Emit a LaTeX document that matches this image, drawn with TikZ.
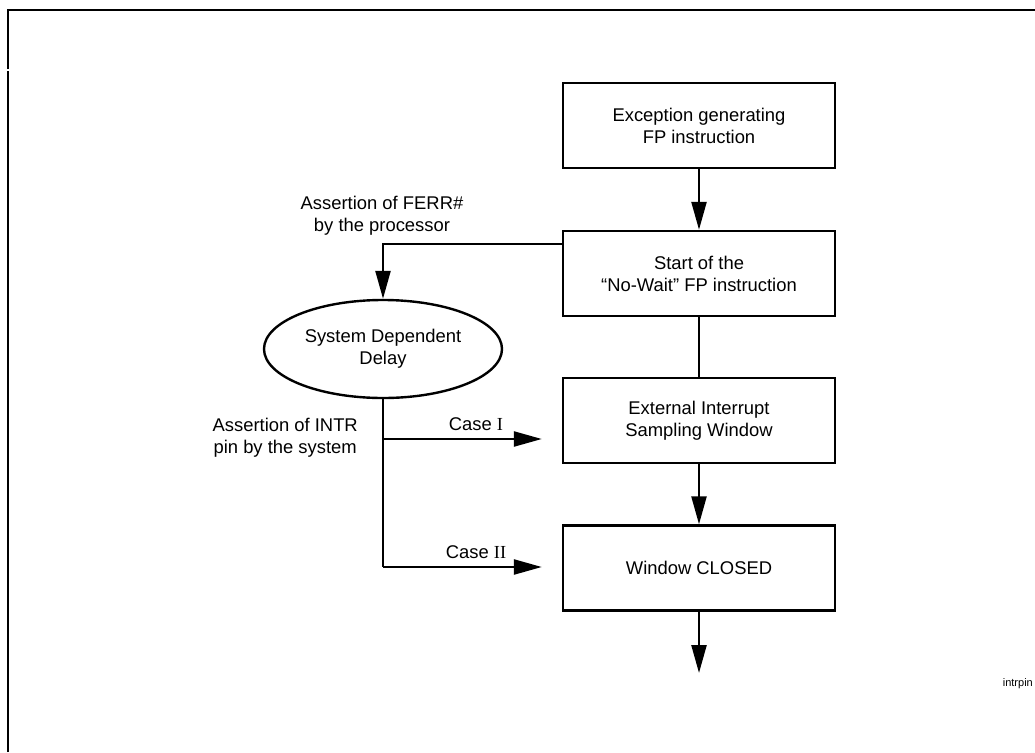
\documentclass[tikz,border=0pt]{standalone}
\usepackage{fontspec}
\setmainfont{Liberation Sans}
\newfontfamily\romfont{Liberation Serif}
\usetikzlibrary{arrows.meta,shapes.geometric}

\tikzset{
  stepbox/.style={draw,minimum width=272pt,minimum height=85pt,align=center,inner sep=0pt},
  lbl/.style={align=center,inner sep=0pt},
}

\begin{document}
\begin{tikzpicture}[x=1pt,y=-1pt,line width=2.4pt,>={Triangle[length=28pt,width=15pt]},
    every node/.style={font=\fontsize{18.4}{22}\selectfont}]
  \useasboundingbox (0,0) rectangle (1035,752);
  \draw[line width=2.2pt] (8,752) -- (8,71) (8,69) -- (8,10) -- (1035,10);
  \node[stepbox] (exc) at (699,125.5) {Exception generating\\FP instruction};
  \node[stepbox] (start) at (699,273.5) {Start of the\\“No-Wait” FP instruction};
  \node[stepbox] (ext) at (699,420.5) {External Interrupt\\Sampling Window};
  \node[stepbox] (closed) at (699,568) {Window CLOSED};
  \node[draw,ellipse,minimum width=238pt,minimum height=98pt,inner sep=0pt,align=center] (delay) at (383,349) {System Dependent\\Delay};
  \node[lbl] (ferr) at (382,216) {Assertion of FERR\#\\by the processor};
  \node[lbl,anchor=east] (intr) at (359,438) {Assertion of INTR\\pin by the system};
  \node[lbl,anchor=base east,font=\fontsize{11}{13}\selectfont] (fig) at (1034,686) {intrpin};
  \coordinate (c1) at (383,439);
  \coordinate (c2) at (383,567);
  \coordinate (out) at (699,673);
  \draw[->] (exc) -- (start);
  \draw[->] ([yshift=29.5pt]start.west) -| (delay.north);
  \draw (start) -- (ext);
  \draw[->] (ext) -- (closed);
  \draw[->] (closed) -- (out);
  \draw (delay) -- (c2);
  \draw[->,shorten >=20pt] (c1) -- (c1 -| ext.west) node[lbl,pos=.52,above=7pt] {Case {\romfont I}};
  \draw[->,shorten >=20pt] (c2) -- (c2 -| closed.west) node[lbl,pos=.52,above=7pt] {Case {\romfont II}};
\end{tikzpicture}
\end{document}
